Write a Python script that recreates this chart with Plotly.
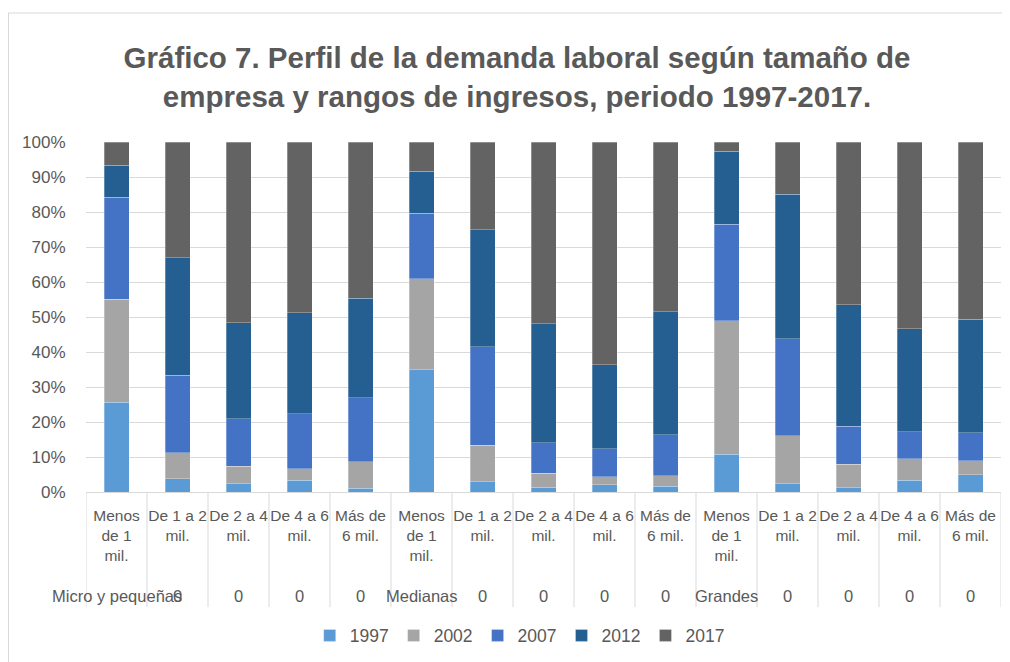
import plotly.graph_objects as go

# categorías (rango de ingresos) y tamaño de empresa
rangos = ["Menos<br>de 1<br>mil.", "De 1 a 2<br>mil.", "De 2 a 4<br>mil.", "De 4 a 6<br>mil.", "Más de<br>6 mil."] * 3
tamanos = ["Micro y pequeñas", "0", "0", "0", "0",
           "Medianas", "0", "0", "0", "0",
           "Grandes", "0", "0", "0", "0"]

anios = ["1997", "2002", "2007", "2012", "2017"]
colores = ["#5B9BD5", "#A5A5A5", "#4472C4", "#255E91", "#636363"]

# porcentajes
v1997 = [25.6, 3.8, 2.4, 3.3, 1.1, 35.0, 3.0, 1.3, 2.1, 1.6, 10.8, 2.4, 1.2, 3.3, 5.0]
v2002 = [29.5, 7.4, 4.9, 3.3, 7.5, 25.9, 10.4, 4.1, 2.3, 3.1, 38.2, 13.7, 6.7, 6.2, 3.9]
v2007 = [29.1, 22.1, 13.6, 15.8, 18.4, 18.8, 28.1, 8.7, 8.0, 11.6, 27.5, 27.7, 10.9, 7.7, 8.0]
v2012 = [9.1, 33.7, 27.5, 28.8, 28.4, 12.0, 33.4, 34.0, 23.9, 35.2, 20.9, 41.3, 34.7, 29.4, 32.5]
v2017 = [6.7, 33.0, 51.6, 48.8, 44.6, 8.3, 25.1, 51.9, 63.7, 48.5, 2.6, 14.9, 46.5, 53.4, 50.6]

series = [v1997, v2002, v2007, v2012, v2017]
xs = list(range(len(rangos)))

GRIS = "#595959"
FUENTE = "Liberation Sans, Arial, sans-serif"

fig = go.Figure()
for anio, col, vals in zip(anios, colores, series):
    fig.add_trace(go.Bar(x=xs, y=[v / 100 for v in vals], name=anio,
                         marker=dict(color=col, line=dict(color="rgba(255,255,255,0.35)", width=0.8)),
                         width=0.41))

# fila de tamaño de empresa
for i, t in enumerate(tamanos):
    fig.add_annotation(x=i, y=-0.297, xref="x", yref="paper", text=t, showarrow=False,
                       font=dict(size=16.5, color=GRIS, family=FUENTE), yanchor="middle")

# divisiones verticales del eje de categorías
for i in range(len(rangos) + 1):
    fig.add_shape(type="line", x0=i - 0.5, x1=i - 0.5, y0=0, y1=-0.329, xref="x", yref="paper",
                  line=dict(color="#d9d9d9", width=1))

# marco del gráfico
fig.add_shape(type="rect", xref="paper", yref="paper", x0=-0.0847, x1=1.02, y0=-0.5, y1=1.3686,
              line=dict(color="#d9d9d9", width=1), fillcolor="rgba(0,0,0,0)")

# la página añade 8px de margen al body: el lienzo es 8px menor
fig.update_layout(
    width=1002, height=654,
    barmode="stack",
    plot_bgcolor="white", paper_bgcolor="white",
    margin=dict(l=78, r=9, t=134, b=170),
    font=dict(family=FUENTE, color=GRIS, size=16),
    title=dict(text="Gráfico 7. Perfil de la demanda laboral según tamaño de<br>empresa y rangos de ingresos, periodo 1997-2017.",
               x=0.508, xanchor="center", y=0.908, yanchor="middle",
               font=dict(size=29.5, color=GRIS, family=FUENTE, weight="bold")),
    xaxis=dict(range=[-0.5, len(rangos) - 0.5], tickvals=xs, ticktext=rangos,
               ticks="outside", ticklen=9, tickcolor="rgba(0,0,0,0)",
               showgrid=False, zeroline=False, showline=True, linecolor="#d9d9d9",
               tickfont=dict(size=15.5, color=GRIS), tickangle=0),
    yaxis=dict(range=[0, 1], dtick=0.1, tickformat=".0%", showgrid=True, gridcolor="#d9d9d9",
               zeroline=False, ticks="outside", ticklen=16, tickcolor="rgba(0,0,0,0)",
               tickfont=dict(size=17, color=GRIS)),
    legend=dict(orientation="h", x=0.474, xanchor="center", y=-0.41, yanchor="middle",
                font=dict(size=17.5, color=GRIS), traceorder="normal"),
    bargap=0.59,
)

fig.write_html("out.html")
